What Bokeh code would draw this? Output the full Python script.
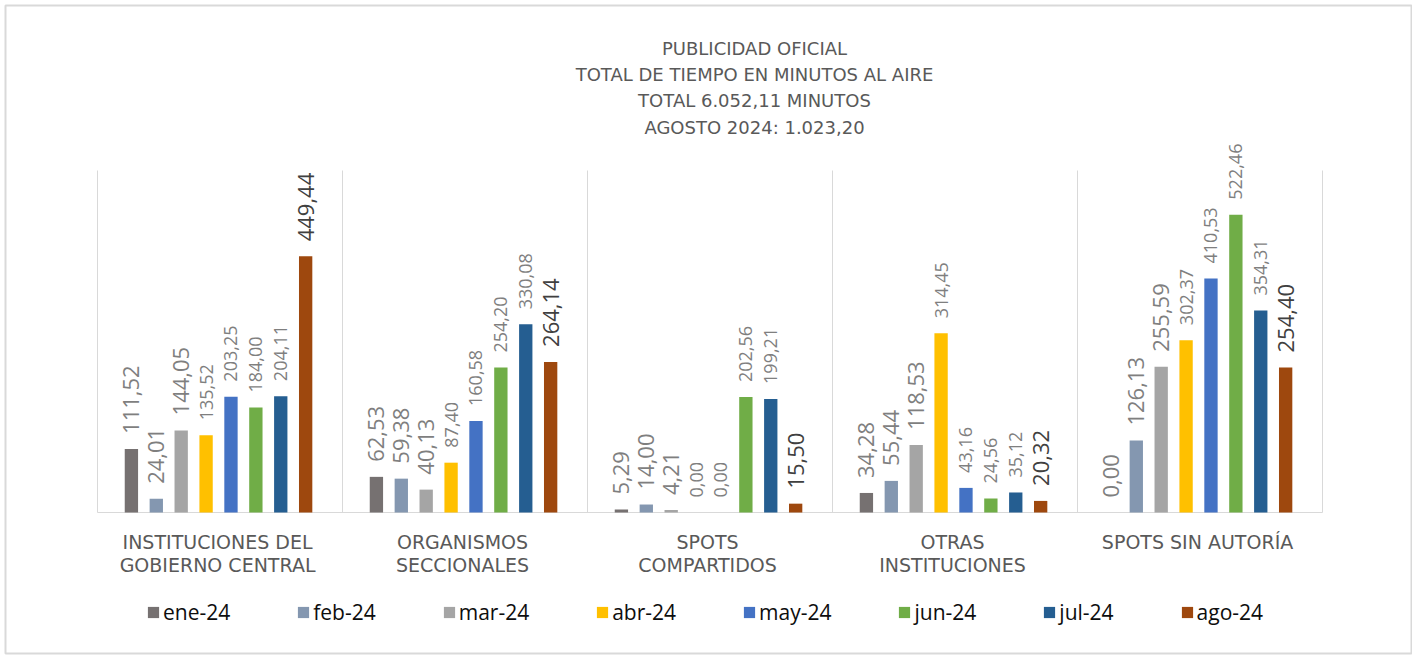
import math
from bokeh.plotting import figure
from bokeh.models import ColumnDataSource, Range1d, Legend, LegendItem, Label
from bokeh.core.properties import value
from bokeh.embed import file_html
from bokeh.resources import INLINE

# ---------------- data ----------------
categories = ["INSTITUCIONES DEL\nGOBIERNO CENTRAL", "ORGANISMOS\nSECCIONALES",
              "SPOTS\nCOMPARTIDOS", "OTRAS\nINSTITUCIONES", "SPOTS SIN AUTORÍA"]
months = ["ene-24", "feb-24", "mar-24", "abr-24", "may-24", "jun-24", "jul-24", "ago-24"]
ene = [111.52, 62.53, 5.29, 34.28, 0.00]
feb = [24.01, 59.38, 14.00, 55.44, 126.13]
mar = [144.05, 40.13, 4.21, 118.53, 255.59]
abr = [135.52, 87.40, 0.00, 314.45, 302.37]
may = [203.25, 160.58, 0.00, 43.16, 410.53]
jun = [184.00, 254.20, 202.56, 24.56, 522.46]
jul = [204.11, 330.08, 199.21, 35.12, 354.31]
ago = [449.44, 264.14, 15.50, 20.32, 254.40]
series = [ene, feb, mar, abr, may, jun, jul, ago]
title_lines = ["PUBLICIDAD OFICIAL", "TOTAL DE TIEMPO EN MINUTOS AL AIRE",
               "TOTAL 6.052,11 MINUTOS", "AGOSTO 2024: 1.023,20"]
y_max = 600

# ---------------- styles / layout ----------------
colors = ["#767171", "#8497b0", "#a5a5a5", "#ffc000", "#4472c4", "#70ad47", "#255e91", "#9e480e"]
label_sizes = ["22px", "22px", "22px", "18px", "18px", "18px", "18px", "22px"]
label_colors = ["#7f7f7f"] * 7 + ["#404040"]
GRID = "#d9d9d9"
TXT = "#595959"

# frame = outer bordered box (page pixels)
F_LEFT, F_TOP, F_RIGHT, F_BOTTOM = 5, 5, 1411, 653
W, H = F_RIGHT + 1, F_BOTTOM + 2
CAT_PX = 245.0            # pixels per category
CAT0_PAGE = 219.5         # page x of first category centre
BASE_PAGE = 512.0         # page y of the baseline
PX_PER_UNIT = 342.0 / y_max


def py(page_y):
    """page pixel row -> data y"""
    return (BASE_PAGE - page_y) / PX_PER_UNIT


def px(page_x):
    return (page_x - CAT0_PAGE) / CAT_PX


def fmt(v):
    return f"{v:.2f}".replace(".", ",")


p = figure(width=W, height=H, x_range=Range1d(px(F_LEFT), px(F_RIGHT)),
           y_range=Range1d(py(F_BOTTOM), py(F_TOP)), x_axis_location=None,
           y_axis_location=None, output_backend="svg", toolbar_location=None,
           title=None, min_border_left=F_LEFT, min_border_top=F_TOP,
           min_border_right=W - F_RIGHT, min_border_bottom=H - F_BOTTOM)
p.xgrid.grid_line_color = None
p.ygrid.grid_line_color = None
p.outline_line_color = GRID
p.outline_line_width = 2
p.background_fill_color = "white"
p.border_fill_color = "white"

ncat = len(categories)
# category separators and baseline
sep_x = [k - 0.5 for k in range(ncat + 1)]
p.segment(x0=sep_x, y0=[0] * len(sep_x), x1=sep_x, y1=[y_max] * len(sep_x),
          line_color=GRID, line_width=1)
p.segment(x0=[-0.5], y0=[0], x1=[ncat - 0.5], y1=[0], line_color=GRID, line_width=1)

step = 0.1016
bar_w = 0.0544
gap = 15 / PX_PER_UNIT
items = []
for i, (m, vals) in enumerate(zip(months, series)):
    off = (i - 3.5) * step - 0.006
    xs = [k + off for k in range(ncat)]
    src = ColumnDataSource(dict(x=xs, v=vals, ly=[v + gap for v in vals],
                                lbl=[fmt(v) for v in vals]))
    r = p.vbar(x="x", top="v", bottom=0, width=bar_w, source=src,
               fill_color=colors[i], line_color=None)
    p.text(x="x", y="ly", text="lbl", source=src, angle=math.pi / 2,
           text_align="left", text_baseline="middle",
           text_font=value("Open Sans"), text_font_size=value(label_sizes[i]),
           text_color=label_colors[i])
    items.append(LegendItem(label=m, renderers=[r]))

# category labels
csrc = ColumnDataSource(dict(x=[k - 0.01 for k in range(ncat)],
                             y=[py(530)] * ncat, t=categories))
p.text(x="x", y="y", text="t", source=csrc, text_align="center",
       text_baseline="top", text_font=value("DejaVu Sans"),
       text_font_size=value("19px"), text_color=TXT, text_line_height=1.06)

# title
for t, yy in zip(title_lines, [48, 74, 100, 127]):
    p.add_layout(Label(x=px(754), y=py(yy), text=t, text_align="center",
                       text_baseline="middle", text_font="DejaVu Sans",
                       text_font_size="18px", text_color=TXT))

legend = Legend(items=items, orientation="horizontal", location=(141, 27),
                glyph_width=14, glyph_height=14, label_standoff=3,
                spacing=66, padding=0, margin=0, border_line_color=None,
                background_fill_alpha=0,
                label_text_font="Open Sans", label_text_font_size="21px",
                label_text_color="#0d0d0d")
p.add_layout(legend, "center")

open("out.html", "w").write(file_html(p, INLINE))
